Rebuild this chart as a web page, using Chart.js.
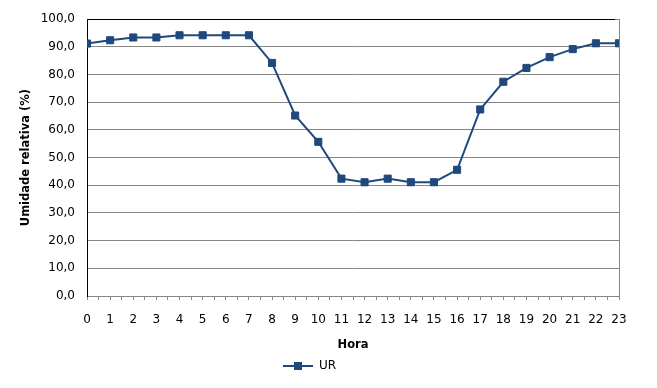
<!DOCTYPE html>
<html>
<head>
<meta charset="utf-8">
<script src="https://cdn.jsdelivr.net/npm/chart.js@4"></script>
<style>
  html, body { margin: 0; padding: 0; background: #fff; }
  #wrap { width: 657px; height: 388px; }
</style>
</head>
<body>
<div id="wrap"><canvas id="chart" width="657" height="388"></canvas></div>
<script>
const hours = ["0","1","2","3","4","5","6","7","8","9","10","11","12","13","14","15","16","17","18","19","20","21","22","23"];
const urValues = [91.2, 92.4, 93.4, 93.4, 94.2, 94.2, 94.2, 94.2, 84.2, 65.2, 55.7, 42.4, 41.1, 42.4, 41.1, 41.1, 45.6, 67.4, 77.4, 82.4, 86.3, 89.2, 91.3, 91.3];
const yTicks = [0, 10, 20, 30, 40, 50, 60, 70, 80, 90, 100];

const lineColor = "#1F497D";
const gridColor = "#868686";
const font = "'DejaVu Sans', Verdana, sans-serif";

// legend symbol: short line with a square marker
function legendSymbol() {
  const c = document.createElement("canvas");
  c.width = 30; c.height = 10;
  const g = c.getContext("2d");
  g.strokeStyle = lineColor;
  g.lineWidth = 2;
  g.beginPath();
  g.moveTo(0, 5); g.lineTo(30, 5);
  g.stroke();
  g.fillStyle = lineColor;
  g.fillRect(11, 1, 8, 8);
  return c;
}

// top edge black, right edge grey like the original plot area
const frame = {
  id: "frame",
  afterDraw(chart) {
    const {ctx, chartArea: a} = chart;
    ctx.save();
    ctx.lineWidth = 1;
    ctx.strokeStyle = "#000";
    ctx.beginPath();
    ctx.moveTo(a.left, Math.round(a.top) + 0.5); ctx.lineTo(a.right - 4, Math.round(a.top) + 0.5);
    ctx.stroke();
    ctx.strokeStyle = gridColor;
    ctx.beginPath();
    ctx.moveTo(a.right + 0.5, a.top); ctx.lineTo(a.right + 0.5, a.bottom);
    ctx.stroke();
    ctx.restore();
  }
};

const ctx = document.getElementById("chart").getContext("2d");
new Chart(ctx, {
  type: "line",
  data: {
    labels: hours,
    datasets: [{
      label: "UR",
      data: urValues,
      borderColor: lineColor,
      backgroundColor: lineColor,
      borderWidth: 2,
      pointStyle: "rect",
      pointRadius: 5,
      pointBorderWidth: 1,
      tension: 0,
    }],
  },
  options: {
    responsive: false,
    animation: false,
    layout: { padding: { top: 11, right: 38, left: 0, bottom: 6 } },
    plugins: {
      legend: {
        position: "bottom",
        labels: {
          usePointStyle: true,
          pointStyle: legendSymbol(),
          pointStyleWidth: 30,
          color: "#000",
          padding: 6,
          font: { family: font, size: 12 },
        },
      },
      tooltip: { enabled: false },
    },
    scales: {
      x: {
        type: "linear",
        min: 0,
        max: 23,
        afterBuildTicks: (scale) => {
          const t = [];
          for (let v = 0; v <= 46; v++) t.push({ value: v / 2 });
          scale.ticks = t;
        },
        afterFit: (scale) => { scale.height = 58; },
        ticks: {
          autoSkip: false,
          maxRotation: 0,
          padding: 13,
          color: "#000",
          font: { family: font, size: 12 },
          callback: (v) => Number.isInteger(v) ? hours[v] : "",
        },
        grid: { drawOnChartArea: false, tickLength: 4, color: gridColor },
        border: { color: gridColor },
        title: {
          display: true,
          text: "Hora",
          color: "#000",
          font: { family: font, size: 11.5, weight: "bold" },
          padding: { top: 0, bottom: 2 },
        },
      },
      y: {
        min: 0,
        max: 100,
        afterBuildTicks: (scale) => { scale.ticks = yTicks.map(v => ({ value: v })); },
        afterFit: (scale) => { scale.width = 87; },
        ticks: {
          padding: 12,
          color: "#000",
          font: { family: font, size: 12 },
          callback: (v) => v.toFixed(1).replace(".", ","),
        },
        grid: { color: gridColor, tickLength: 0 },
        border: { color: "#000" },
        title: {
          display: true,
          text: "Umidade relativa (%)",
          color: "#000",
          font: { family: font, size: 11.5, weight: "bold" },
          padding: { top: 19, bottom: 0 },
        },
      },
    },
  },
  plugins: [frame],
});
</script>
</body>
</html>
